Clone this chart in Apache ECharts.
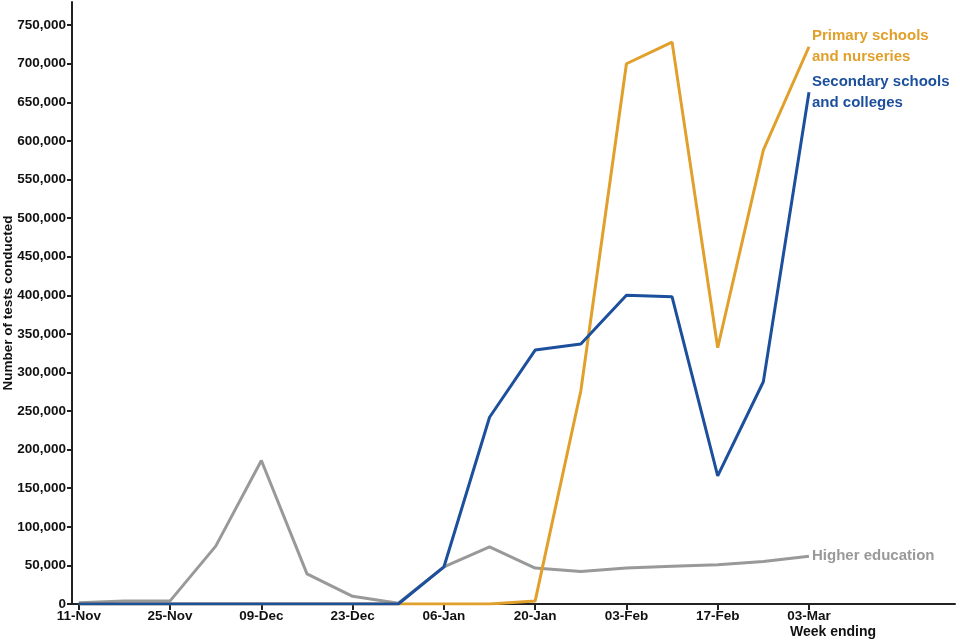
<!DOCTYPE html>
<html>
<head>
<meta charset="utf-8">
<script src="https://cdn.jsdelivr.net/npm/echarts@6/dist/echarts.min.js"></script>
<style>html,body{margin:0;padding:0;background:#fff}#c{width:960px;height:640px}</style>
</head>
<body>
<div id="c"></div>
<script>
const weeks = ['11-Nov','18-Nov','25-Nov','02-Dec','09-Dec','16-Dec','23-Dec','30-Dec','06-Jan','13-Jan','20-Jan','27-Jan','03-Feb','10-Feb','17-Feb','24-Feb','03-Mar'];
const primary = [0,0,0,0,0,0,0,0,0,0,4000,276000,700000,728000,332000,588000,722000];
const secondary = [0,0,0,0,0,0,0,0,48000,242000,329000,337000,400000,398000,166000,288000,663000];
const higher = [1500,4000,4000,75000,186000,39000,10000,1000,48000,74000,46500,42000,46500,49000,51000,55000,62000];
const yTicks = [0,50000,100000,150000,200000,250000,300000,350000,400000,450000,500000,550000,600000,650000,700000,750000];
const xTickIdx = [0,2,4,6,8,10,12,14,16];

const FONT = '"Liberation Sans", Arial, sans-serif';
const toPts = arr => arr.map((v, i) => [i, v]);
const fmt = v => v.toLocaleString('en-GB');

const chart = echarts.init(document.getElementById('c'));
const mk = (name, data, color, z) => ({
  name, type: 'line', data: toPts(data), z,
  symbol: 'none', lineStyle: { width: 3, color }, itemStyle: { color },
  endLabel: {
    show: true, formatter: name, color, fontFamily: FONT, fontWeight: 'bold',
    fontSize: 15, lineHeight: 21, distance: 3
  },
  animation: false
});
chart.setOption({
  animation: false,
  grid: { left: 72, right: 5, top: 2, bottom: 36, containLabel: false, outerBoundsMode: 'none' },
  xAxis: {
    type: 'value', min: -0.15, max: 19.2,
    splitLine: { show: false },
    axisLine: { onZero: false, lineStyle: { color: '#222', width: 2 } },
    axisTick: { show: true, length: 6, lineStyle: { color: '#222', width: 2 }, customValues: xTickIdx },
    axisLabel: { customValues: xTickIdx, formatter: v => weeks[Math.round(v)] || '', color: '#111', fontFamily: FONT, fontWeight: 'bold', fontSize: 13.5, margin: 5 }
  },
  yAxis: {
    type: 'value', min: 0, max: 780000,
    name: 'Number of tests conducted', nameLocation: 'middle', nameGap: 57, nameMoveOverlap: false,
    nameTextStyle: { color: '#111', fontFamily: FONT, fontWeight: 'bold', fontSize: 13.5 },
    splitLine: { show: false },
    axisLine: { show: true, onZero: false, lineStyle: { color: '#222', width: 2 } },
    axisTick: { show: true, length: 5, lineStyle: { color: '#222', width: 2 }, customValues: yTicks },
    axisLabel: { customValues: yTicks, formatter: v => fmt(v), color: '#111', fontFamily: FONT, fontWeight: 'bold', fontSize: 13.5, margin: 6 }
  },
  graphic: [{
    type: 'text', left: 790, top: 625,
    style: { text: 'Week ending', fill: '#111', font: 'bold 14px ' + FONT }
  }],
  series: [
    mk('Higher education', higher, '#999999', 2),
    mk('Primary schools\nand nurseries', primary, '#E1A02B', 3),
    mk('Secondary schools\nand colleges', secondary, '#1C4F9C', 4)
  ]
});
</script>
</body>
</html>
